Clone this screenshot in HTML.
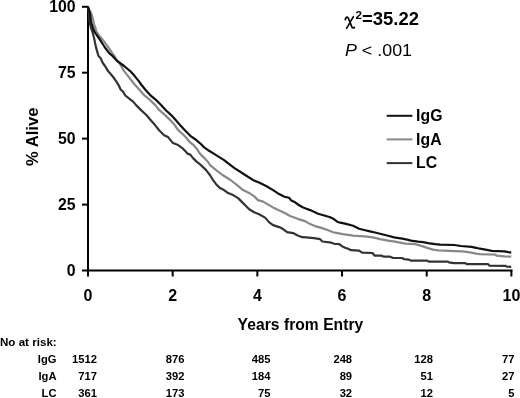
<!DOCTYPE html>
<html><head><meta charset="utf-8"><style>
html,body{margin:0;padding:0;background:#fff;width:520px;height:398px;overflow:hidden}
svg{display:block;filter:grayscale(1)}
text{font-family:"Liberation Sans",sans-serif;fill:#000}
</style></head><body>
<svg width="520" height="398" viewBox="0 0 520 398">
<rect width="520" height="398" fill="#fff"/>
<rect x="87" y="6" width="2" height="265.5" fill="#000"/>
<rect x="87" y="269.5" width="425.4" height="2" fill="#000"/>
<rect x="82" y="5.8" width="6" height="2" fill="#000"/>
<rect x="82" y="71.7" width="6" height="2" fill="#000"/>
<rect x="82" y="137.6" width="6" height="2" fill="#000"/>
<rect x="82" y="203.6" width="6" height="2" fill="#000"/>
<rect x="82" y="269.5" width="6" height="2" fill="#000"/>
<rect x="87" y="270" width="2" height="6.5" fill="#000"/>
<rect x="171.68" y="270" width="2" height="6.5" fill="#000"/>
<rect x="256.36" y="270" width="2" height="6.5" fill="#000"/>
<rect x="341.04" y="270" width="2" height="6.5" fill="#000"/>
<rect x="425.72" y="270" width="2" height="6.5" fill="#000"/>
<rect x="510.4" y="270" width="2" height="6.5" fill="#000"/>
<text x="75.6" y="11.8" font-size="15.8" font-weight="bold" text-anchor="end">100</text>
<text x="75.6" y="77.9" font-size="15.8" font-weight="bold" text-anchor="end">75</text>
<text x="75.6" y="144.1" font-size="15.8" font-weight="bold" text-anchor="end">50</text>
<text x="75.6" y="210.1" font-size="15.8" font-weight="bold" text-anchor="end">25</text>
<text x="75.6" y="276.1" font-size="15.8" font-weight="bold" text-anchor="end">0</text>
<text x="88.0" y="300.5" font-size="16" font-weight="bold" text-anchor="middle">0</text>
<text x="172.7" y="300.5" font-size="16" font-weight="bold" text-anchor="middle">2</text>
<text x="257.4" y="300.5" font-size="16" font-weight="bold" text-anchor="middle">4</text>
<text x="342.0" y="300.5" font-size="16" font-weight="bold" text-anchor="middle">6</text>
<text x="426.7" y="300.5" font-size="16" font-weight="bold" text-anchor="middle">8</text>
<text x="511.4" y="300.5" font-size="16" font-weight="bold" text-anchor="middle">10</text>
<text x="237.6" y="329.5" font-size="15.6" font-weight="bold" textLength="125.6" lengthAdjust="spacing">Years from Entry</text>
<text transform="translate(38,166) rotate(-90)" font-size="16.6" font-weight="bold">% Alive</text>
<path d="M345.3,19.6 Q345.9,17 347.2,17.1 Q348.3,17.3 349,19.6 L351.6,26.4 Q352.4,28.6 354.4,27.4" fill="none" stroke="#000" stroke-width="1.7" stroke-linecap="round"/>
<path d="M353.4,16.6 L346.6,28.4" fill="none" stroke="#000" stroke-width="1.6" stroke-linecap="round"/>
<text x="355.4" y="18.8" font-size="11.6" font-weight="bold">2</text>
<text x="362" y="24.9" font-size="17.5" font-weight="bold" textLength="57" lengthAdjust="spacingAndGlyphs">=35.22</text>
<text x="345" y="55.5" font-size="17" textLength="67" lengthAdjust="spacingAndGlyphs"><tspan font-style="italic">P</tspan> &lt; .001</text>
<rect x="386.7" y="114.8" width="25.7" height="2" fill="#111"/>
<rect x="386.7" y="138.4" width="25.7" height="2" fill="#888"/>
<rect x="386.7" y="162.1" width="25.7" height="2" fill="#333"/>
<text x="416.1" y="121.3" font-size="15.8" font-weight="bold">IgG</text>
<text x="416.1" y="144.9" font-size="15.8" font-weight="bold">IgA</text>
<text x="416.1" y="168.3" font-size="15.8" font-weight="bold">LC</text>
<polyline points="88,7 88.6,10 89,14 89.5,21 90.1,24 91,28 92.4,31.5 94.3,39.1 95.8,46.6 97.7,53.4 98.5,56 100.5,58 102.8,63 105,66 108,71.1 112.8,76.5 116.1,81.1 118.7,85.3 120.6,89.5 123.1,91.8 125.3,95.5 129.6,98.9 131.1,100.1 133.4,101.9 136.1,105.1 141.1,110.1 146.6,115.2 150.1,119.5 155.1,125.1 159.1,130.2 164.1,135.2 168,137.1 170.5,140.1 173,143.1 178.1,145.1 182,147.8 185,150.8 188,153.9 190.3,154.6 193.3,158.4 196.3,161.4 201,165.1 206.1,170.1 210.1,175.2 213.1,180.2 216.1,184.2 220,188.1 224,190.1 228.1,193.1 233.1,195.1 238.1,198.1 242.1,202.1 245.2,205.2 249.2,209.2 254.1,212.2 259,214.2 265.1,217.6 269,222.1 273,225.1 279.1,227.1 283.1,229.1 287.1,232.1 293.1,233.1 297.2,235.2 302.2,237.2 306,237.4 314.1,238.2 320.1,239.2 322.5,241.5 331.4,242.7 335,244 339,244 342,246.2 345.1,247.7 348.1,248.7 351.1,250.2 359.1,250.7 362.1,252.7 372.5,253 374.5,255.6 381.1,255.6 384.1,256.7 390.1,256.7 393.1,258 402.2,258 404.2,259.2 409,259.6 411,260.7 427.1,260.6 429.1,261.7 448,261.7 449,262.4 453.6,263.1 465.3,263.1 466.7,264.1 488.1,264.1 489.5,265.7 505.3,265.8 506.7,266.6 511.2,266.8" fill="none" stroke="#333" stroke-width="2.2" stroke-linejoin="round"/>
<polyline points="88,7 89.5,10 91.5,14 93.5,21 93.8,24 95.5,28 96.2,31.5 99,35.5 102.2,39.1 107.9,46.6 112.4,53.4 114.1,55.5 117.1,61 119.4,63 121.1,66 124.1,71.1 128.1,76.1 131.5,80.5 135.1,85 139.6,90 144.1,95.1 150.2,100.1 155.2,105.1 159.4,110.2 165.1,115.1 170.2,120.1 174.7,125.1 178.1,130 182.8,134.3 185.8,137.3 189.5,141.8 193.3,144.8 197.1,149.3 200.1,153.9 203.9,157.6 207.6,161.4 210.1,165.1 216.1,170.1 222.5,175 230.5,180 237.1,185.1 243.1,190.1 250.1,193.6 254,196.1 258,200.1 263.1,201.6 269.1,205.1 274.1,208.1 280,210.8 285.2,213.2 290,216 293.6,217.3 298.2,219.1 305,221.1 310.1,224.1 315.1,226.1 322.1,228.1 328.1,230.2 333.2,232.2 335,232.6 343,234.1 353.1,235.6 360.1,236.1 367.2,236.6 374,237.6 380.1,239.1 388.1,240.6 395.1,241.6 400.2,242.6 405.2,243.6 415.1,244.1 422.1,246.1 428.1,248.1 433.1,249.6 438.2,250.4 449,250.9 462.6,251.4 469.9,252.3 476.2,253.6 480,254.2 495.4,254.6 496.7,255.7 504.4,256.4 511.2,256.6" fill="none" stroke="#888" stroke-width="2.2" stroke-linejoin="round"/>
<polyline points="88,7 89,10 90,14 91,21 91.6,24 93,28 94.3,31.5 97,35.5 99.6,39.1 104.6,47 109.4,53.4 112.5,56 117.2,61 124.1,66 130.2,71.1 134.7,76.1 138.4,80.6 141.6,85 145.6,90 150.2,95.1 156.2,100.1 161.1,105 165.6,110 171.2,115.1 175.7,120.1 180,125 184.6,130 190.3,135.8 195.6,139.5 200.1,143.3 203.9,147.1 209.1,150.8 216.1,155.1 224.1,160.1 230.5,165.1 234.5,168.1 241.4,172.5 245.2,175 254,180.6 260.1,183 266.1,186 273.1,190.1 279.1,194.1 284.5,196.7 289,197.8 291.3,200.4 295.1,202.3 298.8,205 302.6,207.2 306.4,208.7 310.1,210.1 318.1,213.7 325.1,215.7 330.2,217.2 333.2,218.7 337.2,221.7 339,222.3 345.1,223.6 353.1,225.7 359.1,228.7 365.2,230.2 370,231.4 376,232.8 382.1,234.3 388.1,235.8 394.1,237.4 402.2,238.6 407.2,239.6 411,240.6 418.1,241.6 423.1,242.1 428.1,243.1 435.2,244.1 440,244.6 454.5,245 460.8,246 471.7,246.9 476.2,247.8 480,248.7 485.4,249.6 491.8,250.9 504.4,251.4 511.2,252.6" fill="none" stroke="#111" stroke-width="2.2" stroke-linejoin="round"/>
<text x="0" y="346.1" font-size="11.6" font-weight="bold">No at risk:</text>
<text x="56.5" y="363.3" font-size="11.2" font-weight="bold" text-anchor="end">IgG</text>
<text x="96.9" y="363.3" font-size="11.2" font-weight="bold" text-anchor="end">1512</text>
<text x="184.4" y="363.3" font-size="11.2" font-weight="bold" text-anchor="end">876</text>
<text x="270.5" y="363.3" font-size="11.2" font-weight="bold" text-anchor="end">485</text>
<text x="352.1" y="363.3" font-size="11.2" font-weight="bold" text-anchor="end">248</text>
<text x="432.9" y="363.3" font-size="11.2" font-weight="bold" text-anchor="end">128</text>
<text x="514.4" y="363.3" font-size="11.2" font-weight="bold" text-anchor="end">77</text>
<text x="56.5" y="380.2" font-size="11.2" font-weight="bold" text-anchor="end">IgA</text>
<text x="96.9" y="380.2" font-size="11.2" font-weight="bold" text-anchor="end">717</text>
<text x="184.4" y="380.2" font-size="11.2" font-weight="bold" text-anchor="end">392</text>
<text x="270.5" y="380.2" font-size="11.2" font-weight="bold" text-anchor="end">184</text>
<text x="352.1" y="380.2" font-size="11.2" font-weight="bold" text-anchor="end">89</text>
<text x="432.9" y="380.2" font-size="11.2" font-weight="bold" text-anchor="end">51</text>
<text x="514.4" y="380.2" font-size="11.2" font-weight="bold" text-anchor="end">27</text>
<text x="56.5" y="396.6" font-size="11.2" font-weight="bold" text-anchor="end">LC</text>
<text x="96.9" y="396.6" font-size="11.2" font-weight="bold" text-anchor="end">361</text>
<text x="184.4" y="396.6" font-size="11.2" font-weight="bold" text-anchor="end">173</text>
<text x="270.5" y="396.6" font-size="11.2" font-weight="bold" text-anchor="end">75</text>
<text x="352.1" y="396.6" font-size="11.2" font-weight="bold" text-anchor="end">32</text>
<text x="432.9" y="396.6" font-size="11.2" font-weight="bold" text-anchor="end">12</text>
<text x="514.4" y="396.6" font-size="11.2" font-weight="bold" text-anchor="end">5</text>
</svg>
</body></html>
